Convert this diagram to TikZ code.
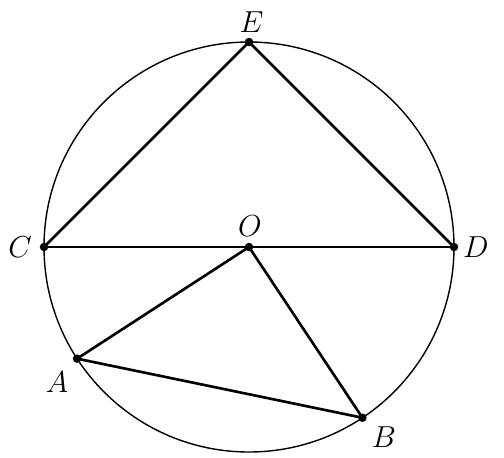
\documentclass[tikz,border=0pt]{standalone}
\usepackage{amsmath, amssymb, tikz}
\usetikzlibrary{calc}
\def\R{4.1}
\def\lbl(#1){{\LARGE $#1$}}
\tikzset{ptlabel/.style={inner sep=0pt}}
\begin{document}
\begin{tikzpicture}
\useasboundingbox (-4.98,-4.2) rectangle (5.10,4.94);
\coordinate (O) at (0,0);
\coordinate (C) at (180:\R);
\coordinate (D) at (0:\R);
\coordinate (E) at (90:\R);
\coordinate (A) at (213:\R);
\coordinate (B) at (303.6:\R);
\node[ptlabel] (lO) at (0.02,0.42) {\lbl(O)};
\node[ptlabel] (lC) at (-4.58,0) {\lbl(C)};
\node[ptlabel] (lD) at (4.54,0) {\lbl(D)};
\node[ptlabel] (lE) at (0.05,4.5) {\lbl(E)};
\node[ptlabel] (lA) at (-3.84,-2.7) {\lbl(A)};
\node[ptlabel] (lB) at (2.7,-3.8) {\lbl(B)};
\draw[line width=0.8pt] (O) circle (\R);
\draw[line width=1.5pt] (C)--(E);
\draw[line width=1.5pt] (E)--(D);
\draw[line width=1.5pt] (C)--(D);
\draw[line width=1.5pt] (O)--(A);
\draw[line width=1.5pt] (A)--(B);
\draw[line width=1.5pt] (B)--(O);
\fill (O) circle(0.085);
\fill (C) circle(0.085);
\fill (D) circle(0.085);
\fill (E) circle(0.085);
\fill (A) circle(0.085);
\fill (B) circle(0.085);
\end{tikzpicture}
\end{document}
